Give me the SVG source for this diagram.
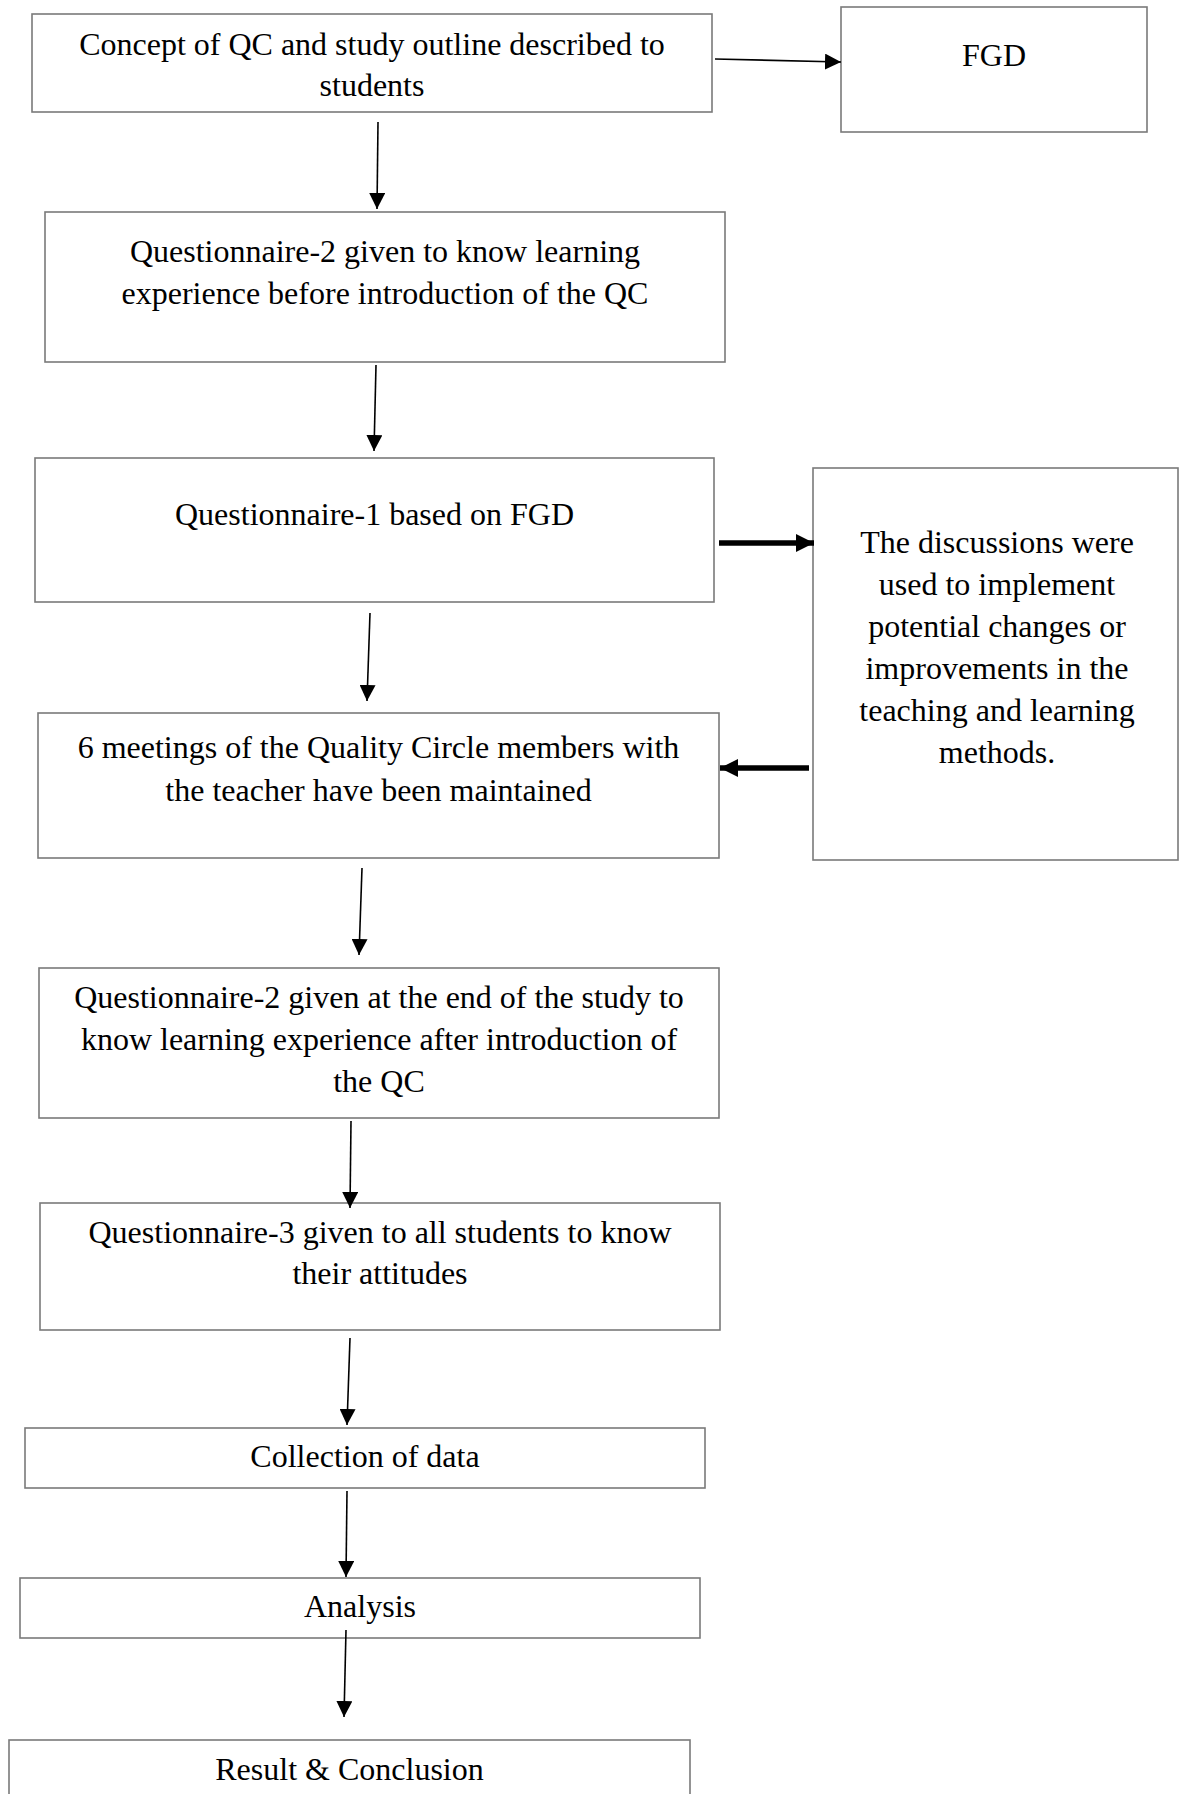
<svg xmlns="http://www.w3.org/2000/svg" width="1179" height="1794" viewBox="0 0 1179 1794">
<defs>
<style>
.box{fill:#fff;stroke:#7a7a7a;stroke-width:1.6}
.t{font-family:"Liberation Serif","Times New Roman",serif;font-size:32px;fill:#000;text-anchor:middle}
.c{stroke:#000;stroke-width:1.6;fill:none}
.k{stroke:#000;stroke-width:5.5;fill:none}
</style>
<marker id="ah" markerUnits="userSpaceOnUse" viewBox="0 0 16 16" refX="16" refY="8" markerWidth="16" markerHeight="16" orient="auto"><path d="M0,0 L16,8 L0,16 Z" fill="#000"/></marker>
<marker id="ahk" markerUnits="userSpaceOnUse" viewBox="0 0 18 18" refX="18" refY="9" markerWidth="18" markerHeight="18" orient="auto"><path d="M0,0 L18,9 L0,18 Z" fill="#000"/></marker>
</defs>
<rect width="1179" height="1794" fill="#fff"/>

<g id="n1"><rect class="box" x="32" y="14" width="680" height="98"/>
<text class="t" x="372" y="55">Concept of QC and study outline described to</text>
<text class="t" x="372" y="96">students</text></g>

<g id="fgd"><rect class="box" x="841" y="7" width="306" height="125"/>
<text class="t" x="994" y="66">FGD</text></g>

<g id="n2"><rect class="box" x="45" y="212" width="680" height="150"/>
<text class="t" x="385" y="262">Questionnaire-2 given to know learning</text>
<text class="t" x="385" y="304">experience before introduction of the QC</text></g>

<g id="n3"><rect class="box" x="35" y="458" width="679" height="144"/>
<text class="t" x="374.5" y="525">Questionnaire-1 based on FGD</text></g>

<g id="disc"><rect class="box" x="813" y="468" width="365" height="392"/>
<text class="t" x="997" y="553">The discussions were</text>
<text class="t" x="997" y="595">used to implement</text>
<text class="t" x="997" y="637">potential changes or</text>
<text class="t" x="997" y="679">improvements in the</text>
<text class="t" x="997" y="721">teaching and learning</text>
<text class="t" x="997" y="763">methods.</text></g>

<g id="n4"><rect class="box" x="38" y="713" width="681" height="145"/>
<text class="t" x="378.5" y="758">6 meetings of the Quality Circle members with</text>
<text class="t" x="378.5" y="801">the teacher have been maintained</text></g>

<g id="n5"><rect class="box" x="39" y="968" width="680" height="150"/>
<text class="t" x="379" y="1008">Questionnaire-2 given at the end of the study to</text>
<text class="t" x="379" y="1050">know learning experience after introduction of</text>
<text class="t" x="379" y="1092">the QC</text></g>

<g id="n6"><rect class="box" x="40" y="1203" width="680" height="127"/>
<text class="t" x="380" y="1243">Questionnaire-3 given to all students to know</text>
<text class="t" x="380" y="1284">their attitudes</text></g>

<g id="n7"><rect class="box" x="25" y="1428" width="680" height="60"/>
<text class="t" x="365" y="1467">Collection of data</text></g>

<g id="n8"><rect class="box" x="20" y="1578" width="680" height="60"/>
<text class="t" x="360" y="1617">Analysis</text></g>

<g id="n9"><rect class="box" x="9" y="1740" width="681" height="70"/>
<text class="t" x="349.5" y="1780">Result &amp; Conclusion</text></g>

<g id="connectors">
<line class="c" x1="715" y1="59" x2="841" y2="62" marker-end="url(#ah)"/>
<line class="c" x1="378" y1="122" x2="377" y2="209" marker-end="url(#ah)"/>
<line class="c" x1="376" y1="365" x2="374" y2="451" marker-end="url(#ah)"/>
<line class="k" x1="719" y1="543" x2="814" y2="543" marker-end="url(#ahk)"/>
<line class="k" x1="809" y1="768" x2="720" y2="768" marker-end="url(#ahk)"/>
<line class="c" x1="370" y1="613" x2="367" y2="701" marker-end="url(#ah)"/>
<line class="c" x1="362" y1="868" x2="359" y2="955" marker-end="url(#ah)"/>
<line class="c" x1="351" y1="1121" x2="350" y2="1208" marker-end="url(#ah)"/>
<line class="c" x1="350" y1="1338" x2="347" y2="1425" marker-end="url(#ah)"/>
<line class="c" x1="347" y1="1491" x2="346" y2="1577" marker-end="url(#ah)"/>
<line class="c" x1="346" y1="1630" x2="344" y2="1717" marker-end="url(#ah)"/>
</g>
</svg>
